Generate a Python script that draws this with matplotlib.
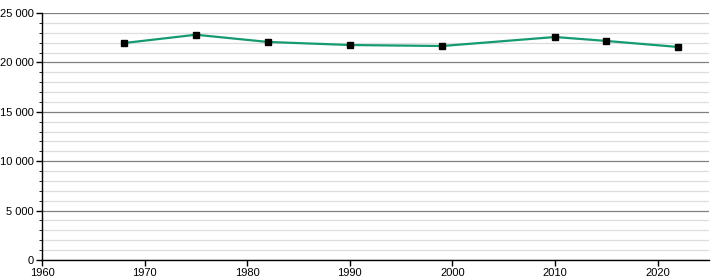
import matplotlib
matplotlib.use("Agg")
import matplotlib.pyplot as plt
from matplotlib.ticker import MultipleLocator, FuncFormatter

# census years and population
years = [1968, 1975, 1982, 1990, 1999, 2010, 2015, 2022]
population = [21960, 22800, 22070, 21760, 21660, 22570, 22170, 21560]

plt.rcParams['font.family'] = ['Liberation Sans', 'DejaVu Sans']

fig = plt.figure(figsize=(7.2, 2.8), dpi=100)
ax = fig.add_axes([42 / 720, 20 / 280, 667 / 720, 247 / 280])

ax.plot(years, population, color='#159a72', lw=1.6, zorder=3)
ax.plot(years, population, 's', color='black', ms=4, zorder=4)

ax.set_xlim(1960, 2025)
ax.set_ylim(0, 25000)
ax.xaxis.set_major_locator(MultipleLocator(10))
ax.yaxis.set_major_locator(MultipleLocator(5000))
ax.yaxis.set_minor_locator(MultipleLocator(1000))
ax.yaxis.set_major_formatter(FuncFormatter(lambda v, p: f"{int(v):,}".replace(",", " ")))

ax.grid(axis='y', which='major', color='#808080', lw=0.9)
ax.grid(axis='y', which='minor', color='#dddddd', lw=0.9)
ax.set_axisbelow(True)

for s in ['top', 'right']:
    ax.spines[s].set_visible(False)
ax.spines['left'].set_linewidth(1)
ax.spines['bottom'].set_linewidth(1)
ax.tick_params(labelsize=8, length=4, width=1, pad=2)
ax.tick_params(axis='y', which='minor', length=2)

fig.savefig("out.png", dpi=100)
